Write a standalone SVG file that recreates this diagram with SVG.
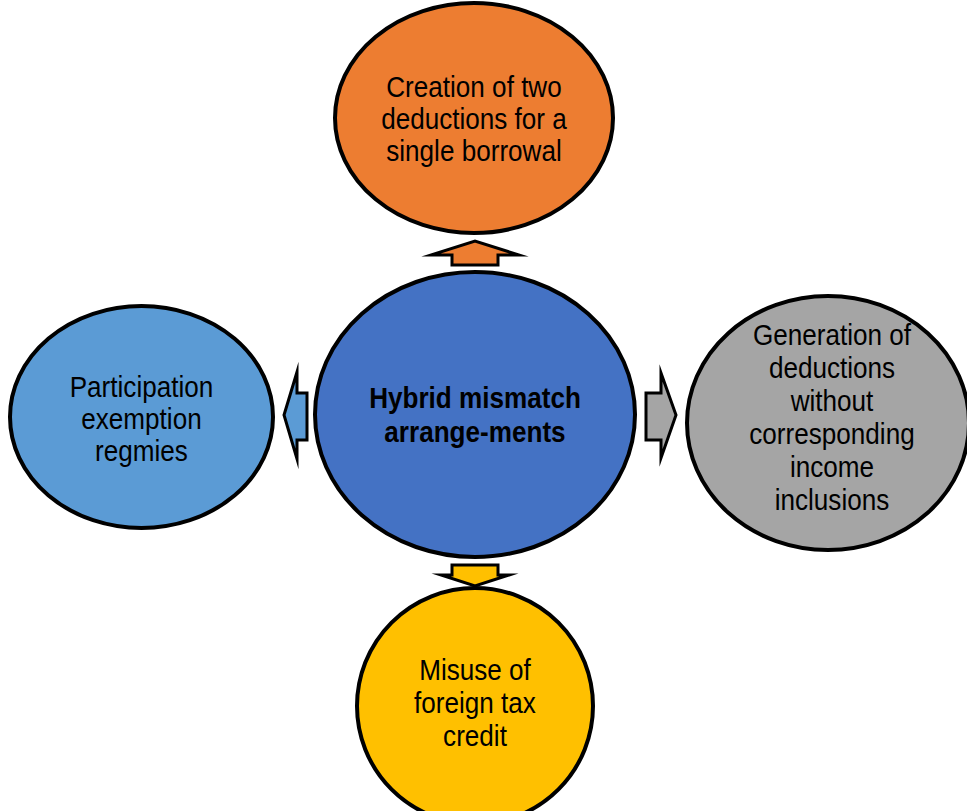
<svg xmlns="http://www.w3.org/2000/svg" width="967" height="811" viewBox="0 0 967 811">
<style>
.node ellipse{stroke:#000;stroke-width:4}
.arr polygon{stroke:#000;stroke-width:3;stroke-linejoin:miter;stroke-miterlimit:20}
text{font-family:"Liberation Sans",Arial,sans-serif;font-size:29px;fill:#000;text-anchor:middle}
.b{font-weight:bold}
</style>
<rect width="967" height="811" fill="#fff"/>
<g id="connectors" class="arr">
  <polygon fill="#ED7D31" points="452,265 452,255 431,255 475,241 519,255 498,255 498,265"/>
  <polygon fill="#5B9BD5" points="307,393 297,393 297,372 284,415 297,459 297,440 307,440"/>
  <polygon fill="#A5A5A5" points="646,393 661,393 661,373 676,415 661,458 661,440 646,440"/>
  <polygon fill="#FFC000" points="452,565 498,565 498,575 509,575 475,586 441,575 452,575"/>
</g>
<g id="center" class="node">
  <ellipse cx="475" cy="414.5" rx="160" ry="142.5" fill="#4472C4"/>
  <g transform="translate(475 0) scale(0.9 1) translate(-475 0)">
    <text class="b" x="475" y="408">Hybrid mismatch</text>
    <text class="b" x="475" y="442">arrange-ments</text>
  </g>
</g>
<g id="top" class="node">
  <ellipse cx="474" cy="118" rx="139" ry="115" fill="#ED7D31"/>
  <g transform="translate(474 0) scale(0.9 1) translate(-474 0)">
    <text x="474" y="97">Creation of two</text>
    <text x="474" y="129">deductions for a</text>
    <text x="474" y="161">single borrowal</text>
  </g>
</g>
<g id="left" class="node">
  <ellipse cx="141.5" cy="417" rx="131.5" ry="111" fill="#5B9BD5"/>
  <g transform="translate(141.5 0) scale(0.9 1) translate(-141.5 0)">
    <text x="141.5" y="397">Participation</text>
    <text x="141.5" y="429">exemption</text>
    <text x="141.5" y="461">regmies</text>
  </g>
</g>
<g id="right" class="node">
  <ellipse cx="828" cy="423" rx="141" ry="127" fill="#A5A5A5"/>
  <g transform="translate(832 0) scale(0.9 1) translate(-832 0)">
    <text x="832" y="345">Generation of</text>
    <text x="832" y="378">deductions</text>
    <text x="832" y="411">without</text>
    <text x="832" y="444">corresponding</text>
    <text x="832" y="477">income</text>
    <text x="832" y="510">inclusions</text>
  </g>
</g>
<g id="bottom" class="node">
  <ellipse cx="475" cy="706" rx="118" ry="118" fill="#FFC000"/>
  <g transform="translate(475 0) scale(0.9 1) translate(-475 0)">
    <text x="475" y="680">Misuse of</text>
    <text x="475" y="713">foreign tax</text>
    <text x="475" y="746">credit</text>
  </g>
</g>
</svg>
